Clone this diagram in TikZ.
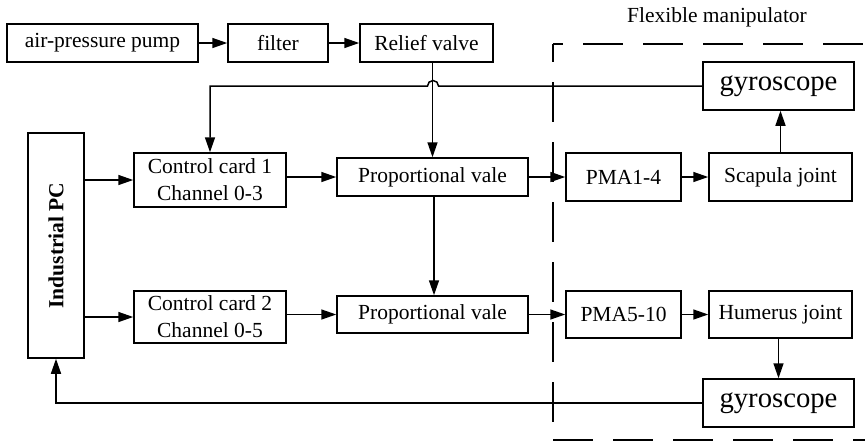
\documentclass[tikz,border=0pt]{standalone}
\usepackage{fontspec}
\setmainfont{Liberation Serif}
\usetikzlibrary{arrows.meta,calc}
\begin{document}
\begin{tikzpicture}[x=1pt,y=-1pt,
  box/.style={draw,line width=1.5pt,inner sep=0pt,align=center,font=\fontsize{21.5}{27}\selectfont},
  arr/.style={line width=1.5pt,-{Triangle[length=15pt,width=10pt]}},
  dsh/.style={line width=2pt,dash pattern=on 40pt off 20pt}]
\useasboundingbox (0,0) rectangle (865,440);
\clip (0,0) rectangle (865,440);
\node[box,minimum width=191pt,minimum height=38pt] (pump) at (102.5,43) {air-pressure pump};
\node[box,minimum width=100pt,minimum height=38pt] (filter) at (278,43) {filter};
\node[box,minimum width=133pt,minimum height=38pt] (relief) at (426.5,43) {Relief valve};
\node[box,minimum width=151pt,minimum height=48pt,font=\fontsize{28.7}{30}\selectfont] (gyro1) at (778.5,86) {gyroscope};
\node[box,minimum width=56pt,minimum height=225pt] (pc) at (56,245.5) {};
\node[rotate=90,inner sep=0pt,font=\fontsize{21.5}{24}\selectfont\bfseries] (pctext) at (pc.center) {Industrial PC};
\node[box,minimum width=152pt,minimum height=54pt] (card1) at (210,180) {Control card 1\\Channel 0-3};
\node[box,minimum width=191pt,minimum height=38pt] (prop1) at (432.5,177) {Proportional vale};
\node[box,minimum width=115pt,minimum height=48pt] (pma1) at (623.5,177) {PMA1-4};
\node[box,minimum width=143pt,minimum height=48pt] (scap) at (780.5,177) {Scapula joint};
\node[box,minimum width=152pt,minimum height=52pt] (card2) at (210,317) {Control card 2\\Channel 0-5};
\node[box,minimum width=191pt,minimum height=37pt] (prop2) at (432.5,314.5) {Proportional vale};
\node[box,minimum width=115pt,minimum height=47pt] (pma2) at (623.5,314.5) {PMA5-10};
\node[box,minimum width=143pt,minimum height=47pt] (hum) at (780.5,314.5) {Humerus joint};
\node[box,minimum width=151pt,minimum height=48pt,font=\fontsize{28.7}{30}\selectfont] (gyro2) at (778.5,403) {gyroscope};
\node[font=\fontsize{21.5}{24}\selectfont] (flex) at (717,17) {Flexible manipulator};
% dashed frame
\coordinate (fr) at (553,44);
\coordinate (fb) at (553,439.5);
\draw[dsh,dash phase=30pt] (fr) -- (900,44);
\draw[dsh,dash phase=22pt] (fr) -- (fb);
\draw[dsh] (fb) -- (900,439.5);
% connectors
\draw[arr] (pump) -- (filter);
\draw[arr] (filter) -- (relief);
\draw[arr] (prop1.north |- relief.south) -- (prop1.north);
\coordinate (hop) at (433,86);
\draw[arr] (gyro1.west) -- ($(hop)+(5.5,0)$) arc[start angle=0,end angle=180,radius=5.5pt] -- (card1.north |- hop) -- (card1.north);
\draw[arr] (pc.east |- card1.west) -- (card1.west);
\draw[arr] (pc.east |- card2.west) -- (card2.west);
\draw[arr] (card1.east |- prop1.west) -- (prop1.west);
\draw[arr] (card2.east |- prop2.west) -- (prop2.west);
\draw[arr] (prop1.east) -- (pma1.west);
\draw[arr] (prop2.east) -- (pma2.west);
\draw[arr] (pma1) -- (scap);
\draw[arr] (pma2) -- (hum);
\draw[arr] ($(prop1.south)+(1.5,0)$) -- ($(prop2.north)+(1.5,0)$);
\draw[arr] (scap.north) -- (scap.north |- gyro1.south);
\draw[arr] (hum.south -| gyro2.north) -- (gyro2.north);
\draw[arr] (gyro2.west) -- (pc.south |- gyro2.west) -- (pc.south);
\end{tikzpicture}
\end{document}
